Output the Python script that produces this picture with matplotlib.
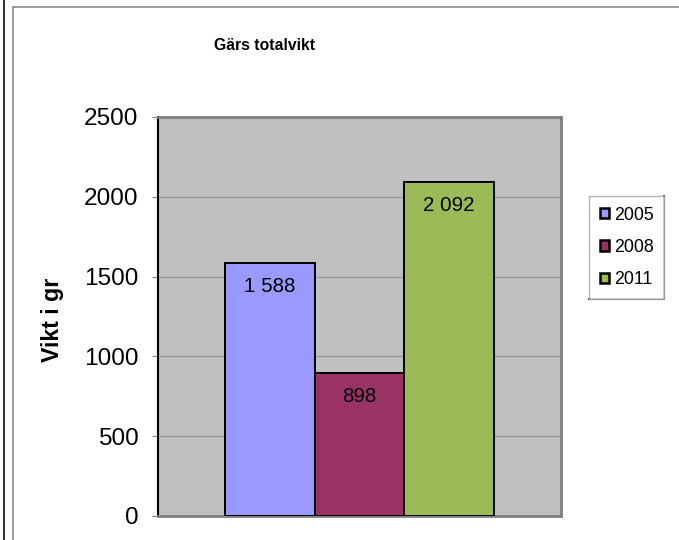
import matplotlib.pyplot as plt
import numpy as np
from matplotlib.lines import Line2D
from matplotlib.patches import Patch

plt.rcParams["font.family"] = ["Liberation Sans", "DejaVu Sans"]

# Totalvikt per provfiskeår
years = ["2005", "2008", "2011"]
weights = [1588, 898, 2092]
bar_colors = ["#9999FF", "#993366", "#9BBB59"]
y_ticks = [0, 500, 1000, 1500, 2000, 2500]

W, H = 679, 540
fig = plt.figure(figsize=(W / 100, H / 100), dpi=100)
ax = fig.add_axes([158 / W, 1 - 516 / H, 403 / W, 399 / H])
ax.set_facecolor("#C0C0C0")

pos = np.arange(len(years)) - 1.0
bars = ax.bar(pos, weights, width=1.0, color=bar_colors,
              edgecolor="black", linewidth=1.4, zorder=3)

for b, v in zip(bars, weights):
    label = f"{v:,}".replace(",", " ")
    ax.annotate(label, (b.get_x() + b.get_width() / 2, v),
                xytext=(0, -17), textcoords="offset points",
                ha="center", va="center", fontsize=14.8, zorder=4)

half = 403 / 89.5 / 2
ax.set_xlim(-half, half)
ax.set_ylim(0, 2500)
ax.set_yticks(y_ticks)
ax.set_xticks([])
ax.yaxis.grid(True, color="#999999", linewidth=1, zorder=0)
ax.tick_params(axis="y", labelsize=17.6, length=4, color="#808080", pad=10)

for side in ("top", "right", "bottom"):
    ax.spines[side].set_color("#808080")
    ax.spines[side].set_linewidth(2)
ax.spines["left"].set_color("black")
ax.spines["left"].set_linewidth(1.5)

fig.text(265 / W, 1 - 45 / H, "Gärs totalvikt", ha="center", va="center",
         fontsize=11.3, fontweight="bold")
fig.text(53 / W, 1 - 320 / H, "Vikt i gr", ha="center", va="center",
         rotation=90, fontsize=16.7, fontweight="bold")

handles = [Patch(facecolor=c, edgecolor="black", linewidth=1.8) for c in bar_colors]
leg = fig.legend(handles, years, loc="upper left",
                 bbox_to_anchor=(589 / W, 1 - 196 / H), fontsize=12.8,
                 frameon=True, fancybox=False, handlelength=0.5,
                 handleheight=0.5, handletextpad=0.3, labelspacing=0.85,
                 borderpad=0.6, borderaxespad=0)
frame = leg.get_frame()
frame.set_edgecolor("#A0A0A0")
frame.set_linewidth(1)

# black shadow lines on the legend's right and bottom edges
fig.canvas.draw()
bb = leg.get_window_extent().transformed(fig.transFigure.inverted())
fig.add_artist(Line2D([bb.x1, bb.x1], [bb.y0, bb.y1], color="black", lw=1.2,
                      transform=fig.transFigure))
fig.add_artist(Line2D([bb.x0, bb.x1], [bb.y0, bb.y0], color="black", lw=1.2,
                      transform=fig.transFigure))

# chart frame lines
fig.add_artist(Line2D([12.5 / W, 12.5 / W], [0, 1 - 7 / H], color="#8C8C8C",
                      lw=1.2, transform=fig.transFigure))
fig.add_artist(Line2D([12.5 / W, 1], [1 - 7 / H, 1 - 7 / H], color="#8C8C8C",
                      lw=1.2, transform=fig.transFigure))
fig.add_artist(Line2D([3.5 / W, 3.5 / W], [0, 1], color="#222222",
                      lw=1.3, transform=fig.transFigure))

fig.savefig("out.png", dpi=100)
